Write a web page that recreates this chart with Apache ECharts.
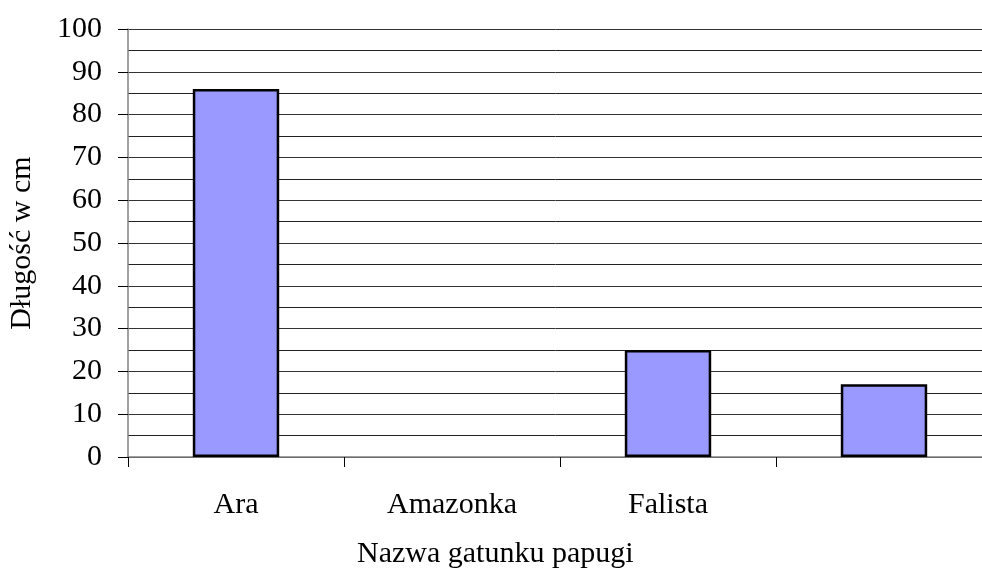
<!doctype html>
<html>
    <head>
        <meta charset="utf-8">
        <title>Długość papug</title>
        <style>
            html, body { margin: 0; padding: 0; background: #fff; }
            #main { width: 982px; height: 576px; }
        </style>
    </head>
    <body>
        <div id="main"></div>
        <script src="https://cdn.jsdelivr.net/npm/echarts@6/dist/echarts.min.js"></script>
        <script>
            // data
            var categories = ['Ara', 'Amazonka', 'Falista', ''];
            var lengths = [86, null, 25, 17];
            var yTicks = { min: 0, max: 100, interval: 10 };

            var font = '"Liberation Serif", "Times New Roman", serif';

            var chart = echarts.init(document.getElementById('main'), null, {
                devicePixelRatio: 1
            });

            chart.setOption({
                backgroundColor: '#fff',
                animation: false,
                grid: {
                    left: 128,
                    right: -10,
                    top: 29,
                    bottom: 119,
                    containLabel: false,
                    outerBoundsMode: 'none'
                },
                xAxis: {
                    type: 'category',
                    data: categories,
                    boundaryGap: true,
                    axisLine: { lineStyle: { color: '#808080', width: 1.5 } },
                    axisTick: { show: true, length: 10, lineStyle: { color: '#000' } },
                    axisLabel: {
                        margin: 33,
                        color: '#000',
                        fontFamily: font,
                        fontSize: 30
                    },
                    splitLine: { show: false }
                },
                yAxis: {
                    type: 'value',
                    min: yTicks.min,
                    max: yTicks.max,
                    interval: yTicks.interval,
                    name: 'Długość w cm',
                    nameLocation: 'middle',
                    nameGap: 91,
                    nameTextStyle: {
                        color: '#000',
                        fontFamily: font,
                        fontSize: 30
                    },
                    axisLine: { show: true, lineStyle: { color: '#808080', width: 1.5 } },
                    axisTick: { show: true, length: 10, lineStyle: { color: '#000' } },
                    axisLabel: {
                        margin: 26,
                        color: '#000',
                        fontFamily: font,
                        fontSize: 30
                    },
                    splitLine: { show: true, lineStyle: { color: '#333', width: 1 } },
                    minorTick: { show: false, splitNumber: 2 },
                    minorSplitLine: { show: true, lineStyle: { color: '#222', width: 1 } }
                },
                graphic: [{
                    type: 'text',
                    left: 357,
                    top: 539,
                    style: {
                        text: 'Nazwa gatunku papugi',
                        fill: '#000',
                        font: '30px ' + font
                    }
                }],
                series: [{
                    type: 'bar',
                    data: lengths,
                    barWidth: '40%',
                    itemStyle: {
                        color: '#9999ff',
                        borderColor: '#000',
                        borderWidth: 2.5
                    }
                }]
            });

            window.onresize = chart.resize;
        </script>
    </body>
</html>
